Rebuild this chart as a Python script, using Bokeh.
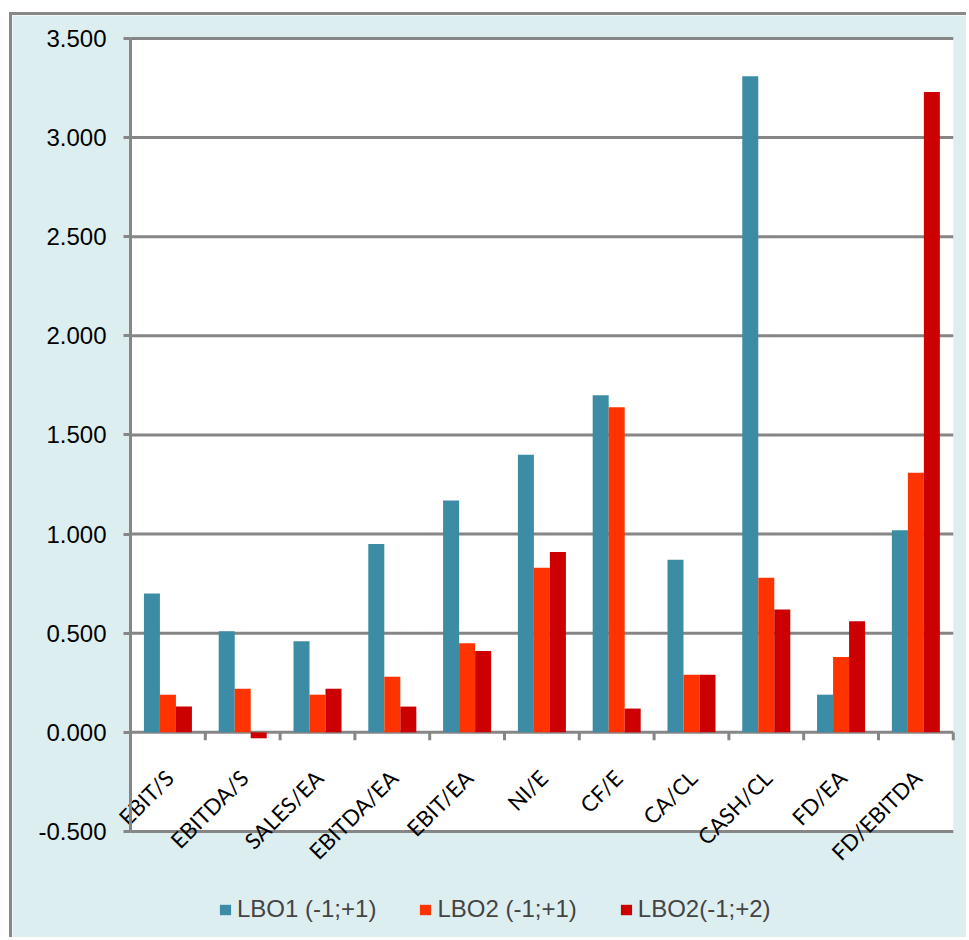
from math import pi

from bokeh.plotting import figure
from bokeh.models import (ColumnDataSource, Range1d, FixedTicker, LinearAxis,
                          NumeralTickFormatter, Legend, LegendItem, BoxAnnotation)
from bokeh.transform import dodge
from bokeh.core.properties import value
from bokeh.embed import file_html
from bokeh.resources import INLINE

# Financial ratios around the buyout events
cats = ["EBIT/S", "EBITDA/S", "SALES/EA", "EBITDA/EA", "EBIT/EA", "NI/E",
        "CF/E", "CA/CL", "CASH/CL", "FD/EA", "FD/EBITDA"]
lbo1_m1p1 = [0.70, 0.51, 0.46, 0.95, 1.17, 1.40, 1.70, 0.87, 3.31, 0.19, 1.02]
lbo2_m1p1 = [0.19, 0.22, 0.19, 0.28, 0.45, 0.83, 1.64, 0.29, 0.78, 0.38, 1.31]
lbo2_m1p2 = [0.13, -0.03, 0.22, 0.13, 0.41, 0.91, 0.12, 0.29, 0.62, 0.56, 3.23]

series_names = ["LBO1 (-1;+1)", "LBO2 (-1;+1)", "LBO2(-1;+2)"]
colors = ["#3C8CA5", "#FF3300", "#CC0000"]
y_ticks = [-0.5, 0.0, 0.5, 1.0, 1.5, 2.0, 2.5, 3.0, 3.5]

GRID = "#868686"
BG = "#DDEEF0"

n = len(cats)
# each category occupies one unit; its centre sits at index + 0.5
pos = [i + 0.5 for i in range(n)]
src = ColumnDataSource(dict(cat=cats, pos=pos, base=[0.0] * n,
                            a=lbo1_m1p1, b=lbo2_m1p1, c=lbo2_m1p2))

Y0, Y1 = y_ticks[0], y_ticks[-1]

# the frame spans the whole canvas; the white plotting area is drawn inside it
p = figure(x_range=Range1d(-1.578, 11.217), y_range=Range1d(-1.05, 3.616),
           width=957, height=925, output_backend="svg", toolbar_location=None,
           x_axis_location=None, y_axis_location=None, min_border=0,
           background_fill_color=BG, border_fill_color=BG,
           outline_line_color=None)
p.styles = {"margin-left": "9px", "margin-top": "12px",
            "border-left": "3px solid #888888", "border-top": "3px solid #888888"}
p.xgrid.visible = False
p.ygrid.visible = False

p.add_layout(BoxAnnotation(left=0, right=n, bottom=Y0, top=Y1,
                           fill_color="white", fill_alpha=1, line_color=None,
                           level="underlay"))

# horizontal gridlines across the plotting area
p.segment(x0=[0] * len(y_ticks), y0=y_ticks, x1=[n] * len(y_ticks), y1=y_ticks,
          line_color=GRID, line_width=3)

# y axis pinned to the left edge of the plotting area
yaxis = LinearAxis(fixed_location=0, bounds=(Y0, Y1))
yaxis.ticker = FixedTicker(ticks=y_ticks)
yaxis.formatter = NumeralTickFormatter(format="0.000")
yaxis.axis_line_color = GRID
yaxis.axis_line_width = 3
yaxis.major_tick_line_color = GRID
yaxis.major_tick_line_width = 3
yaxis.major_tick_out = 7
yaxis.major_tick_in = 0
yaxis.minor_tick_line_color = None
yaxis.major_label_standoff = 17
yaxis.major_label_text_font = "Liberation Sans"
yaxis.major_label_text_font_size = "24px"
yaxis.major_label_text_color = "black"
p.add_layout(yaxis, "left")

# grouped bars
w = 0.214
renderers = []
for col, off, color in zip(["a", "b", "c"], [-w, 0.0, w], colors):
    r = p.vbar(x=dodge("pos", off), top=col, bottom=0, width=w, source=src,
               fill_color=color, line_color=None)
    renderers.append(r)

# category tick marks hanging from the zero line
bounds = list(range(1, n + 1))
p.segment(x0=bounds, y0=[0] * n, x1=bounds, y1=[-0.04] * n,
          line_color=GRID, line_width=3)

# rotated category labels under the zero line
p.text(x="pos", y="base", text="cat", source=src, angle=pi / 4,
       text_align="right", text_baseline="top", x_offset=-8, y_offset=32,
       text_font=value("Lato"), text_font_size="22px", text_color="black")

legend = Legend(items=[LegendItem(label=value(s), renderers=[r])
                       for s, r in zip(series_names, renderers)],
                location=(206, 17), orientation="horizontal",
                label_text_font="Liberation Sans", label_text_font_size="24px",
                glyph_width=14, glyph_height=13, spacing=42, padding=0,
                margin=0, label_standoff=5, border_line_color=None,
                background_fill_alpha=0)
p.add_layout(legend)

open("out.html", "w").write(file_html(p, INLINE))
